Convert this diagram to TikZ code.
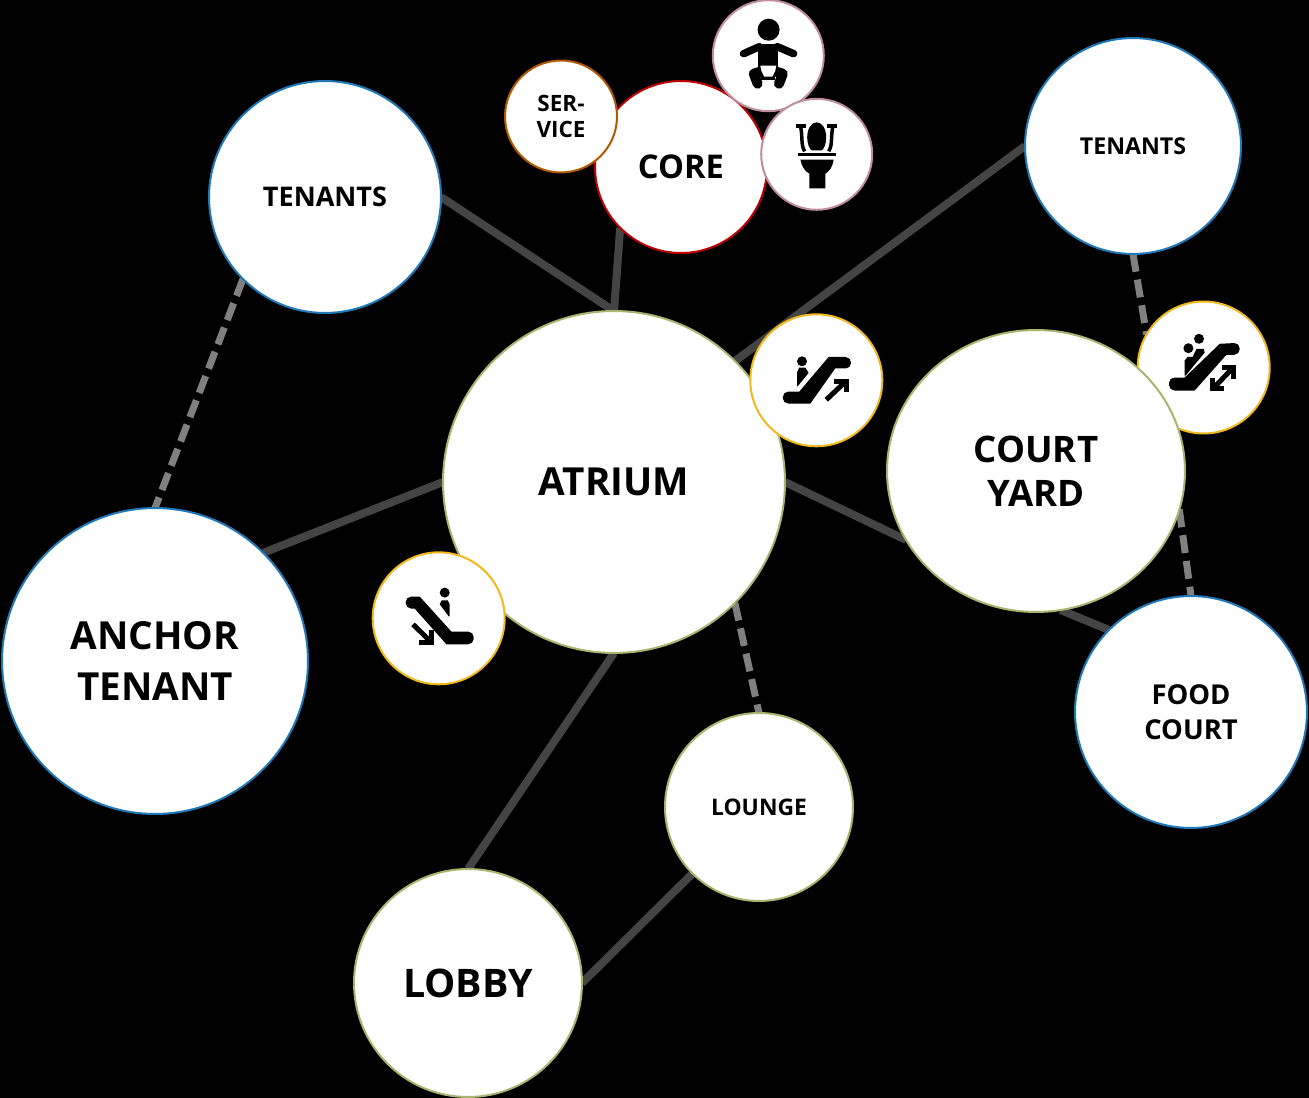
\documentclass[tikz,border=0pt]{standalone}
\usepackage{fontspec}
\setmainfont{Open Sans}
\usetikzlibrary{backgrounds, shapes.geometric}

\definecolor{tenantblue}{HTML}{1F78B8}
\definecolor{hubolive}{HTML}{A9B46E}
\definecolor{escyellow}{HTML}{F2B81F}
\definecolor{wcpink}{HTML}{BF8CA0}
\definecolor{linkgray}{HTML}{444444}
\definecolor{dashgray}{HTML}{808080}

\tikzset{
    pics/escup/.style={code={
        \fill[black] (-14.3,-19) circle [radius=5];
        \fill[black] (-19.3,-8) -- (-17,-12.7) -- (-11,-12.7) -- (-8,-8) -- (-8,-7) -- (-18.7,6) -- (-19.3,6) -- cycle;
        \fill[band] (-17,11.3) -- (12.3,-23.3) [rounded corners=0.11cm] -- (34.7,-23.3) -- (34.7,-11.7) [sharp corners] -- (19,-12) -- (-6,23.3) [rounded corners=0.11cm] -- (-33.5,23.3) -- (-33.5,11.3) [sharp corners] -- cycle;
        \draw[tick] (10,19.5) -- (29,1.5);
        \draw[tick] (18,0.8) -- (29.8,0.8) -- (29.8,12);
    }},
    pics/escdown/.style={code={
        \fill[black] (6,-25.7) circle [radius=5];
        \fill[black] (1,-14) -- (3,-18) -- (9,-18) -- (11,-14) -- (11,-2) -- (10,-2) -- cycle;
        \fill[band] (-19,-21.7) -- (12.7,13.3) [rounded corners=0.11cm] -- (35,13.3) -- (35,26) [sharp corners] -- (7.7,26) -- (-24,-9.7) [rounded corners=0.11cm] -- (-33,-9.7) -- (-33,-21.7) [sharp corners] -- cycle;
        \draw[tick] (-25.7,6) -- (-8.5,23);
        \draw[tick] (-7.5,12) -- (-7.5,24.2) -- (-19.5,24.2);
    }},
    pics/escboth/.style={code={
        \fill[black] (-4.7,-28.7) circle [radius=5];
        \fill[black] (-15.3,-19.3) circle [radius=5];
        \fill[black] (-19,-7) -- (-16,-10.5) -- (-11,-10.5) -- (-9,-15) -- (-7,-18.7) -- (0,-18.7) -- (1,-15) -- (-18,8) -- (-19,8) -- cycle;
        \fill[band] (-19,10) -- (16,-23.7) [rounded corners=0.11cm] -- (36,-24.7) -- (36,-12.7) [sharp corners] -- (22.7,-12.7) -- (-9,23) [rounded corners=0.11cm] -- (-34.7,23) -- (-34.7,10) [sharp corners] -- cycle;
        \draw[tick] (10,20.5) -- (28.5,1);
        \draw[tick] (18,-0.2) -- (29.5,-0.2) -- (29.5,11);
        \draw[tick] (9.2,10) -- (9.2,21.2) -- (20,21.2);
    }},
    pics/baby/.style={code={
        \fill[black] (0.3,-26) circle [radius=11];
        \fill[black] (-10,-12) -- (10,-12) -- (10,14) -- (-10,14) -- cycle;
        \draw[limb] (-24.7,-2) -- (-9,-9);
        \draw[limb] (25.3,-2) -- (9,-9);
        \draw[limb, line width=0.2cm] (-8,16) -- (-14.5,18) -- (-10.7,28);
        \draw[limb, line width=0.2cm] (8,16) -- (14.5,18) -- (10.7,28);
        \fill[black] (-7,18) rectangle (7,24);
        \fill[white] (-8,10) -- (8,10) -- (7,15) -- (4,21) -- (-4,21) -- (-7,15) -- cycle;
    }},
    pics/toilet/.style={code={
        \fill[black] (-20.7,-30) rectangle (-10.5,-26);
        \fill[black] (10.5,-30) rectangle (20.7,-26);
        \draw[black, line width=0.07cm] (-16,-27) .. controls (-14,-18) and (-16,-9) .. (-12,-3);
        \draw[black, line width=0.07cm] (16,-27) .. controls (14,-18) and (16,-9) .. (12,-3);
        \fill[black] (-9.5,-17) .. controls (-9.5,-26) and (-5,-32) .. (0,-32) .. controls (5,-32) and (9.5,-26) .. (9.5,-17) .. controls (9.5,-10) and (7,-5) .. (5,-4) -- (-5,-4) .. controls (-7,-5) and (-9.5,-10) .. (-9.5,-17) -- cycle;
        \fill[black] (-19,-1.5) rectangle (19,2);
        \fill[black] (-16.3,5.3) -- (17,5.3) .. controls (16,12) and (13,17) .. (8.7,19.3) -- (8.7,34) -- (-7.3,34) -- (-7.3,19.3) .. controls (-12,17) and (-15,12) .. (-16.3,5.3) -- cycle;
    }},
}

\begin{document}
\begin{tikzpicture}[
    x=0.02cm, y=-0.02cm,
    spot/.style={circle, draw, fill=white, inner sep=0pt, outer sep=0pt, align=center, line width=0.04cm, font=\bfseries},
    tenant/.style={spot, draw=tenantblue},
    hub/.style={spot, draw=hubolive},
    esc/.style={spot, draw=escyellow, minimum size=2.64cm},
    wc/.style={spot, draw=wcpink, minimum size=2.22cm},
    link/.style={draw=linkgray, line width=0.16cm},
    dashlink/.style={draw=dashgray, line width=0.14cm, dash pattern=on 0.36cm off 0.16cm},
    band/.style={black},
    tick/.style={black, line width=0.1cm},
    limb/.style={black, line width=0.15cm, line cap=round, line join=round},
]
\useasboundingbox (0,0) rectangle (1309,1098);

% lower circles first where they are overlapped
\node[esc] (escboth) at (1203.7,367.5) {};
\node[tenant, minimum size=4.64cm, font=\bfseries\fontsize{15.4}{18}\selectfont] (tenantsa) at (325,197) {TENANTS};
\node[tenant, minimum size=4.32cm, font=\bfseries\fontsize{13.2}{16}\selectfont] (tenantsb) at (1133,146) {TENANTS};
\node[spot, draw=red!75!black, minimum size=3.44cm, font=\bfseries\fontsize{18.6}{21}\selectfont] (core) at (681,167) {CORE};
\node[spot, draw=orange!70!black, minimum size=2.24cm, font=\bfseries\fontsize{12.8}{14.5}\selectfont] (service) at (561,116.5) {SER-\\VICE};
\node[wc] (baby) at (768.3,55.7) {};
\node[wc] (toilet) at (816.7,154.3) {};
\node[hub, minimum size=6.84cm, font=\bfseries\fontsize{22}{25}\selectfont] (atrium) at (614,482) {ATRIUM};
\node[ellipse, draw=hubolive, fill=white, inner sep=0pt, outer sep=0pt, align=center, line width=0.04cm, minimum width=5.96cm, minimum height=5.64cm, font=\bfseries\fontsize{20.8}{25}\selectfont] (court) at (1036,471) {COURT\\YARD};
\node[esc] (escup) at (816.3,380.3) {};
\node[esc] (escdown) at (438.7,618.3) {};
\node[tenant, minimum size=6.12cm, font=\bfseries\fontsize{22}{28.5}\selectfont] (anchor) at (155,661) {ANCHOR\\TENANT};
\node[hub, minimum size=3.76cm, font=\bfseries\fontsize{13}{15}\selectfont] (lounge) at (759,807) {LOUNGE};
\node[hub, minimum size=4.56cm, font=\bfseries\fontsize{22.4}{25}\selectfont] (lobby) at (468,983) {LOBBY};
\node[tenant, minimum size=4.64cm, font=\bfseries\fontsize{15.6}{20}\selectfont] (food) at (1191,712) {FOOD\\COURT};

\pic at (escup) {escup};
\pic at (escdown) {escdown};
\pic at (escboth) {escboth};
\pic at (baby) {baby};
\pic at (toilet) {toilet};

\begin{scope}[on background layer]
\fill[black] (0,0) rectangle (1309,1098);
\draw[link] (tenantsa.east) -- (atrium.north);
\draw[link] (core.225) -- (atrium.north);
\draw[link] (atrium.45) -- (tenantsb.west);
\draw[link] (anchor.45) -- (atrium.west);
\draw[link] (atrium.east) -- (court.208);
\draw[link] (atrium.south) -- (lobby.north);
\draw[link] (lounge.225) -- (lobby.east);
\draw[link] (court.280) -- (food.135);
\draw[dashlink] (tenantsa.225) -- (anchor.north);
\draw[dashlink] (atrium.315) -- (lounge.north);
\draw[dashlink] (tenantsb.south) -- (escboth.150);
\draw[dashlink] (court.345) -- (food.north);
\end{scope}
\end{tikzpicture}
\end{document}
